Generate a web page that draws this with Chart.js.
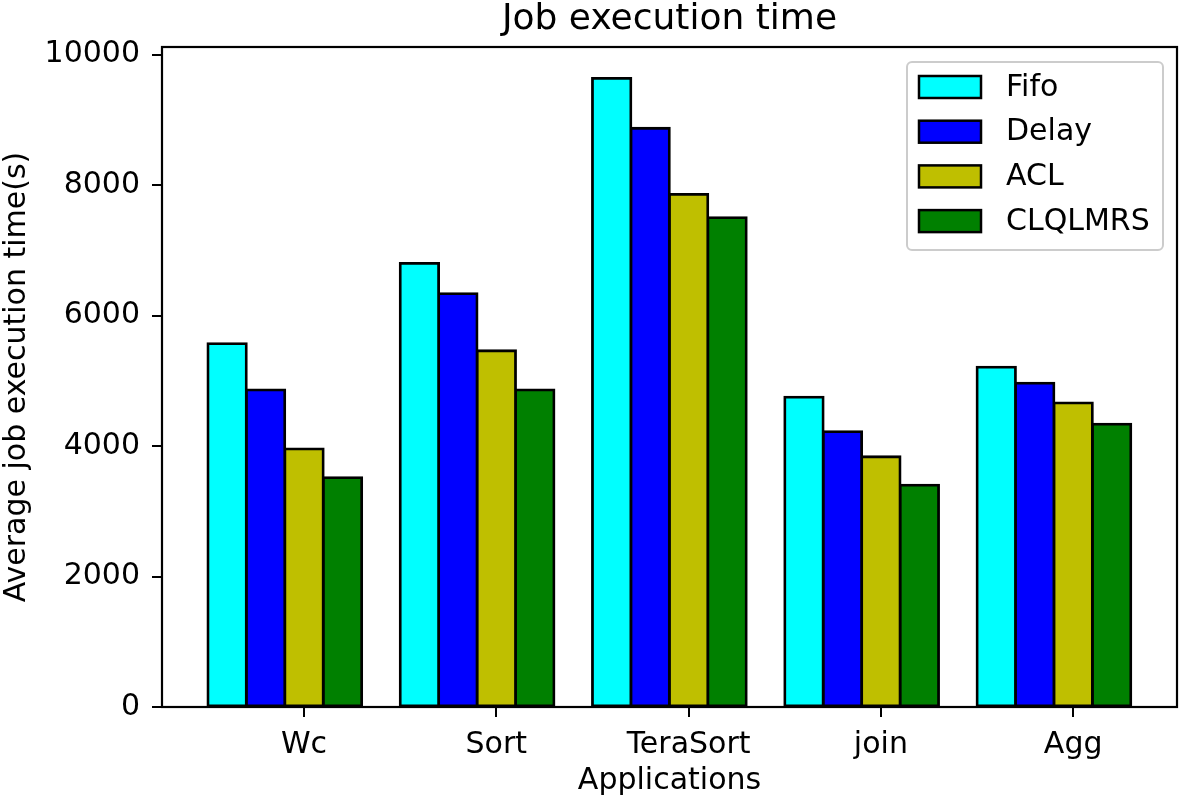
<!DOCTYPE html>
<html>
<head>
<meta charset="utf-8">
<title>Job execution time</title>
<script src="https://cdn.jsdelivr.net/npm/chart.js@4.4.0/dist/chart.umd.min.js"></script>
<style>
  body { margin: 0; background: #fff; }
  canvas { display: block; }
</style>
</head>
<body>
<canvas id="chart" width="1180" height="802"></canvas>
<script>
// Average job execution time per application, one bar per scheduler

const categories = ['Wc', 'Sort', 'TeraSort', 'join', 'Agg'];
const seriesNames = ['Fifo', 'Delay', 'ACL', 'CLQLMRS'];

const fifoTimes    = [5570, 6800, 9635, 4750, 5210];
const delayTimes   = [4860, 6335, 8870, 4220, 4965];
const aclTimes     = [3955, 5460, 7855, 3835, 4660];
const clqlmrsTimes = [3515, 4860, 7500, 3400, 4335];

const yTicks = [0, 2000, 4000, 6000, 8000, 10000];

const seriesColors = ['#00ffff', '#0000ff', '#bfbf00', '#008000'];
const FONT = 'DejaVu Sans';
const BAR_W = 0.2; // bar width in x units, groups are 1 apart

// bars sit side by side, the tick is under the third bar (like matplotlib x + 2*w)
const allSeries = [fifoTimes, delayTimes, aclTimes, clqlmrsTimes];
const datasets = allSeries.map((values, k) => ({
    label: seriesNames[k],
    data: values.map((v, i) => ({ x: i + k * BAR_W, y: v })),
    backgroundColor: seriesColors[k],
    borderColor: '#000',
    borderWidth: 2.8,
    borderSkipped: false,
    inflateAmount: 1.4,
    grouped: false,
    categoryPercentage: 1,
    barPercentage: 1
}));

// box round the plot (matplotlib spines)
const axesFrame = {
    id: 'axesFrame',
    afterDatasetsDraw(chart) {
        const { ctx, chartArea: a } = chart;
        ctx.save();
        ctx.strokeStyle = '#000';
        ctx.lineWidth = 2.2;
        ctx.strokeRect(a.left, a.top, a.right - a.left, a.bottom - a.top);
        ctx.restore();
    }
};

// legend inside the plot, top right, with a rounded grey frame
const legendBox = {
    id: 'legendBox',
    afterDraw(chart) {
        const { ctx, chartArea: a } = chart;
        const w = 256, h = 188;
        const x = a.right - 270, y = a.top + 15;
        ctx.save();
        ctx.beginPath();
        if (ctx.roundRect) ctx.roundRect(x, y, w, h, 5);
        else ctx.rect(x, y, w, h);
        ctx.fillStyle = 'rgba(255,255,255,0.8)';
        ctx.fill();
        ctx.strokeStyle = '#cccccc';
        ctx.lineWidth = 2;
        ctx.stroke();

        ctx.font = '30px "' + FONT + '"';
        ctx.textBaseline = 'middle';
        ctx.textAlign = 'left';
        chart.data.datasets.forEach((ds, k) => {
            const cy = y + 25 + k * 44.7;
            ctx.fillStyle = ds.backgroundColor;
            ctx.fillRect(x + 12, cy - 11, 62, 22);
            ctx.strokeStyle = '#000';
            ctx.lineWidth = 2.5;
            ctx.strokeRect(x + 12, cy - 11, 62, 22);
            ctx.fillStyle = '#000';
            ctx.fillText(ds.label, x + 99, cy + 1);
        });
        ctx.restore();
    }
};

const tickGrid = {
    display: true,
    drawOnChartArea: false,
    drawTicks: true,
    tickLength: 10,
    color: '#000',
    lineWidth: 2
};

const chart = new Chart(document.getElementById('chart'), {
    type: 'bar',
    data: { datasets: datasets },
    options: {
        responsive: false,
        animation: false,
        devicePixelRatio: 1,
        layout: { padding: { left: 0, right: 3, top: 0, bottom: 0 }, autoPadding: false },
        plugins: {
            legend: { display: false },
            tooltip: { enabled: false },
            title: {
                display: true,
                text: 'Job execution time',
                fullSize: false,
                color: '#000',
                font: { family: FONT, size: 36, weight: 'normal', lineHeight: 1 },
                padding: { top: 2, bottom: 9 }
            }
        },
        scales: {
            x: {
                type: 'linear',
                min: -0.3386,
                max: 4.94,
                offset: false,
                border: { display: false },
                grid: { ...tickGrid, offset: false },
                afterBuildTicks: scale => {
                    scale.ticks = categories.map((c, i) => ({ value: i + 2 * BAR_W }));
                },
                afterFit: scale => { scale.height = 95; },
                ticks: {
                    color: '#000',
                    padding: 10,
                    maxRotation: 0,
                    autoSkip: false,
                    font: { family: FONT, size: 30 },
                    callback: (value, index) => categories[index]
                },
                title: {
                    display: true,
                    text: 'Applications',
                    color: '#000',
                    font: { family: FONT, size: 30, lineHeight: 1 },
                    padding: { top: 0, bottom: 6 }
                }
            },
            y: {
                min: 0,
                max: 10115,
                border: { display: false },
                grid: tickGrid,
                afterBuildTicks: scale => {
                    scale.ticks = yTicks.map(v => ({ value: v }));
                },
                afterFit: scale => { scale.width = 162; },
                ticks: {
                    color: '#000',
                    padding: 12,
                    font: { family: FONT, size: 30 },
                    callback: value => String(value)
                },
                title: {
                    display: true,
                    text: 'Average job execution time(s)',
                    color: '#000',
                    font: { family: FONT, size: 30, lineHeight: 1 },
                    padding: { top: 2, bottom: 0 }
                }
            }
        }
    },
    plugins: [axesFrame, legendBox]
});
</script>
</body>
</html>
